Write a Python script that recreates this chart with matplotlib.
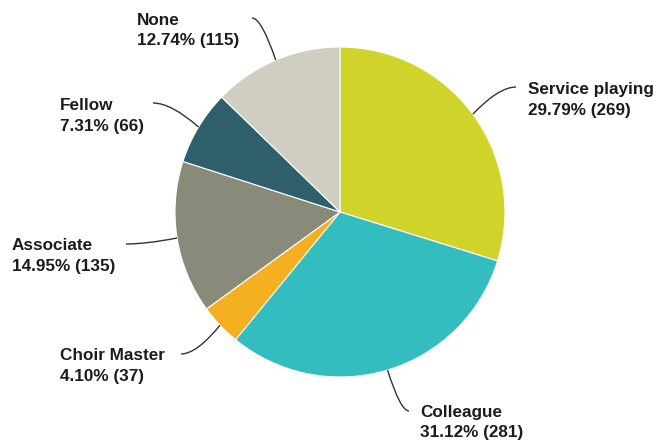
import numpy as np
import matplotlib
matplotlib.use('Agg')
import matplotlib.pyplot as plt
from matplotlib.path import Path
from matplotlib.patches import PathPatch

# data, clockwise from 12 o'clock
labels = ['Service playing', 'Colleague', 'Choir Master', 'Associate', 'Fellow', 'None']
counts = [269, 281, 37, 135, 66, 115]
colors = ['#D0D42A', '#33BDBF', '#F5B022', '#898A7A', '#2F5F6B', '#CFCEC0']

# label layout in pixels (x, baseline of first line), and where the leader starts
label_pos = [(528, 94), (420, 417), (60, 360), (12, 250), (60, 110), (137, 25)]
leader_start = [(516, 87), (409, 411), (181, 354), (126, 244), (153, 103), (252, 18)]

W, H = 657, 441
fig = plt.figure(figsize=(W / 100, H / 100), dpi=100)
ax = fig.add_axes([0, 0, 1, 1])

cx, cy, r = 340, H - 212, 165
wedges, _ = ax.pie(counts, colors=colors, startangle=90, counterclock=False,
                   center=(cx, cy), radius=r,
                   wedgeprops=dict(edgecolor='white', linewidth=0.8))

ax.set_aspect('auto')
ax.set_xlim(0, W)
ax.set_ylim(0, H)
ax.axis('off')

total = sum(counts)
for w, lab, n, (tx, ty), (sx, sy) in zip(wedges, labels, counts, label_pos, leader_start):
    pct = 100.0 * n / total
    ax.text(tx, H - ty, lab, fontsize=12.3, fontweight='bold', family='Liberation Sans',
            color='#1c1c1c', ha='left', va='baseline')
    ax.text(tx, H - ty - 20.5, '%.2f%% (%d)' % (pct, n), fontsize=12.3, fontweight='bold',
            family='Liberation Sans', color='#1c1c1c', ha='left', va='baseline')

    mid = np.radians((w.theta1 + w.theta2) / 2.0)
    ex, ey = cx + r * np.cos(mid), cy + r * np.sin(mid)
    sx, sy = sx, H - sy
    ctrl = (sx + 0.4 * (ex - sx), sy)
    p = Path([(sx, sy), ctrl, (ex, ey)], [Path.MOVETO, Path.CURVE3, Path.CURVE3])
    ax.add_patch(PathPatch(p, fill=False, edgecolor='#333333', linewidth=1.0))

fig.savefig('out.png', dpi=100)
